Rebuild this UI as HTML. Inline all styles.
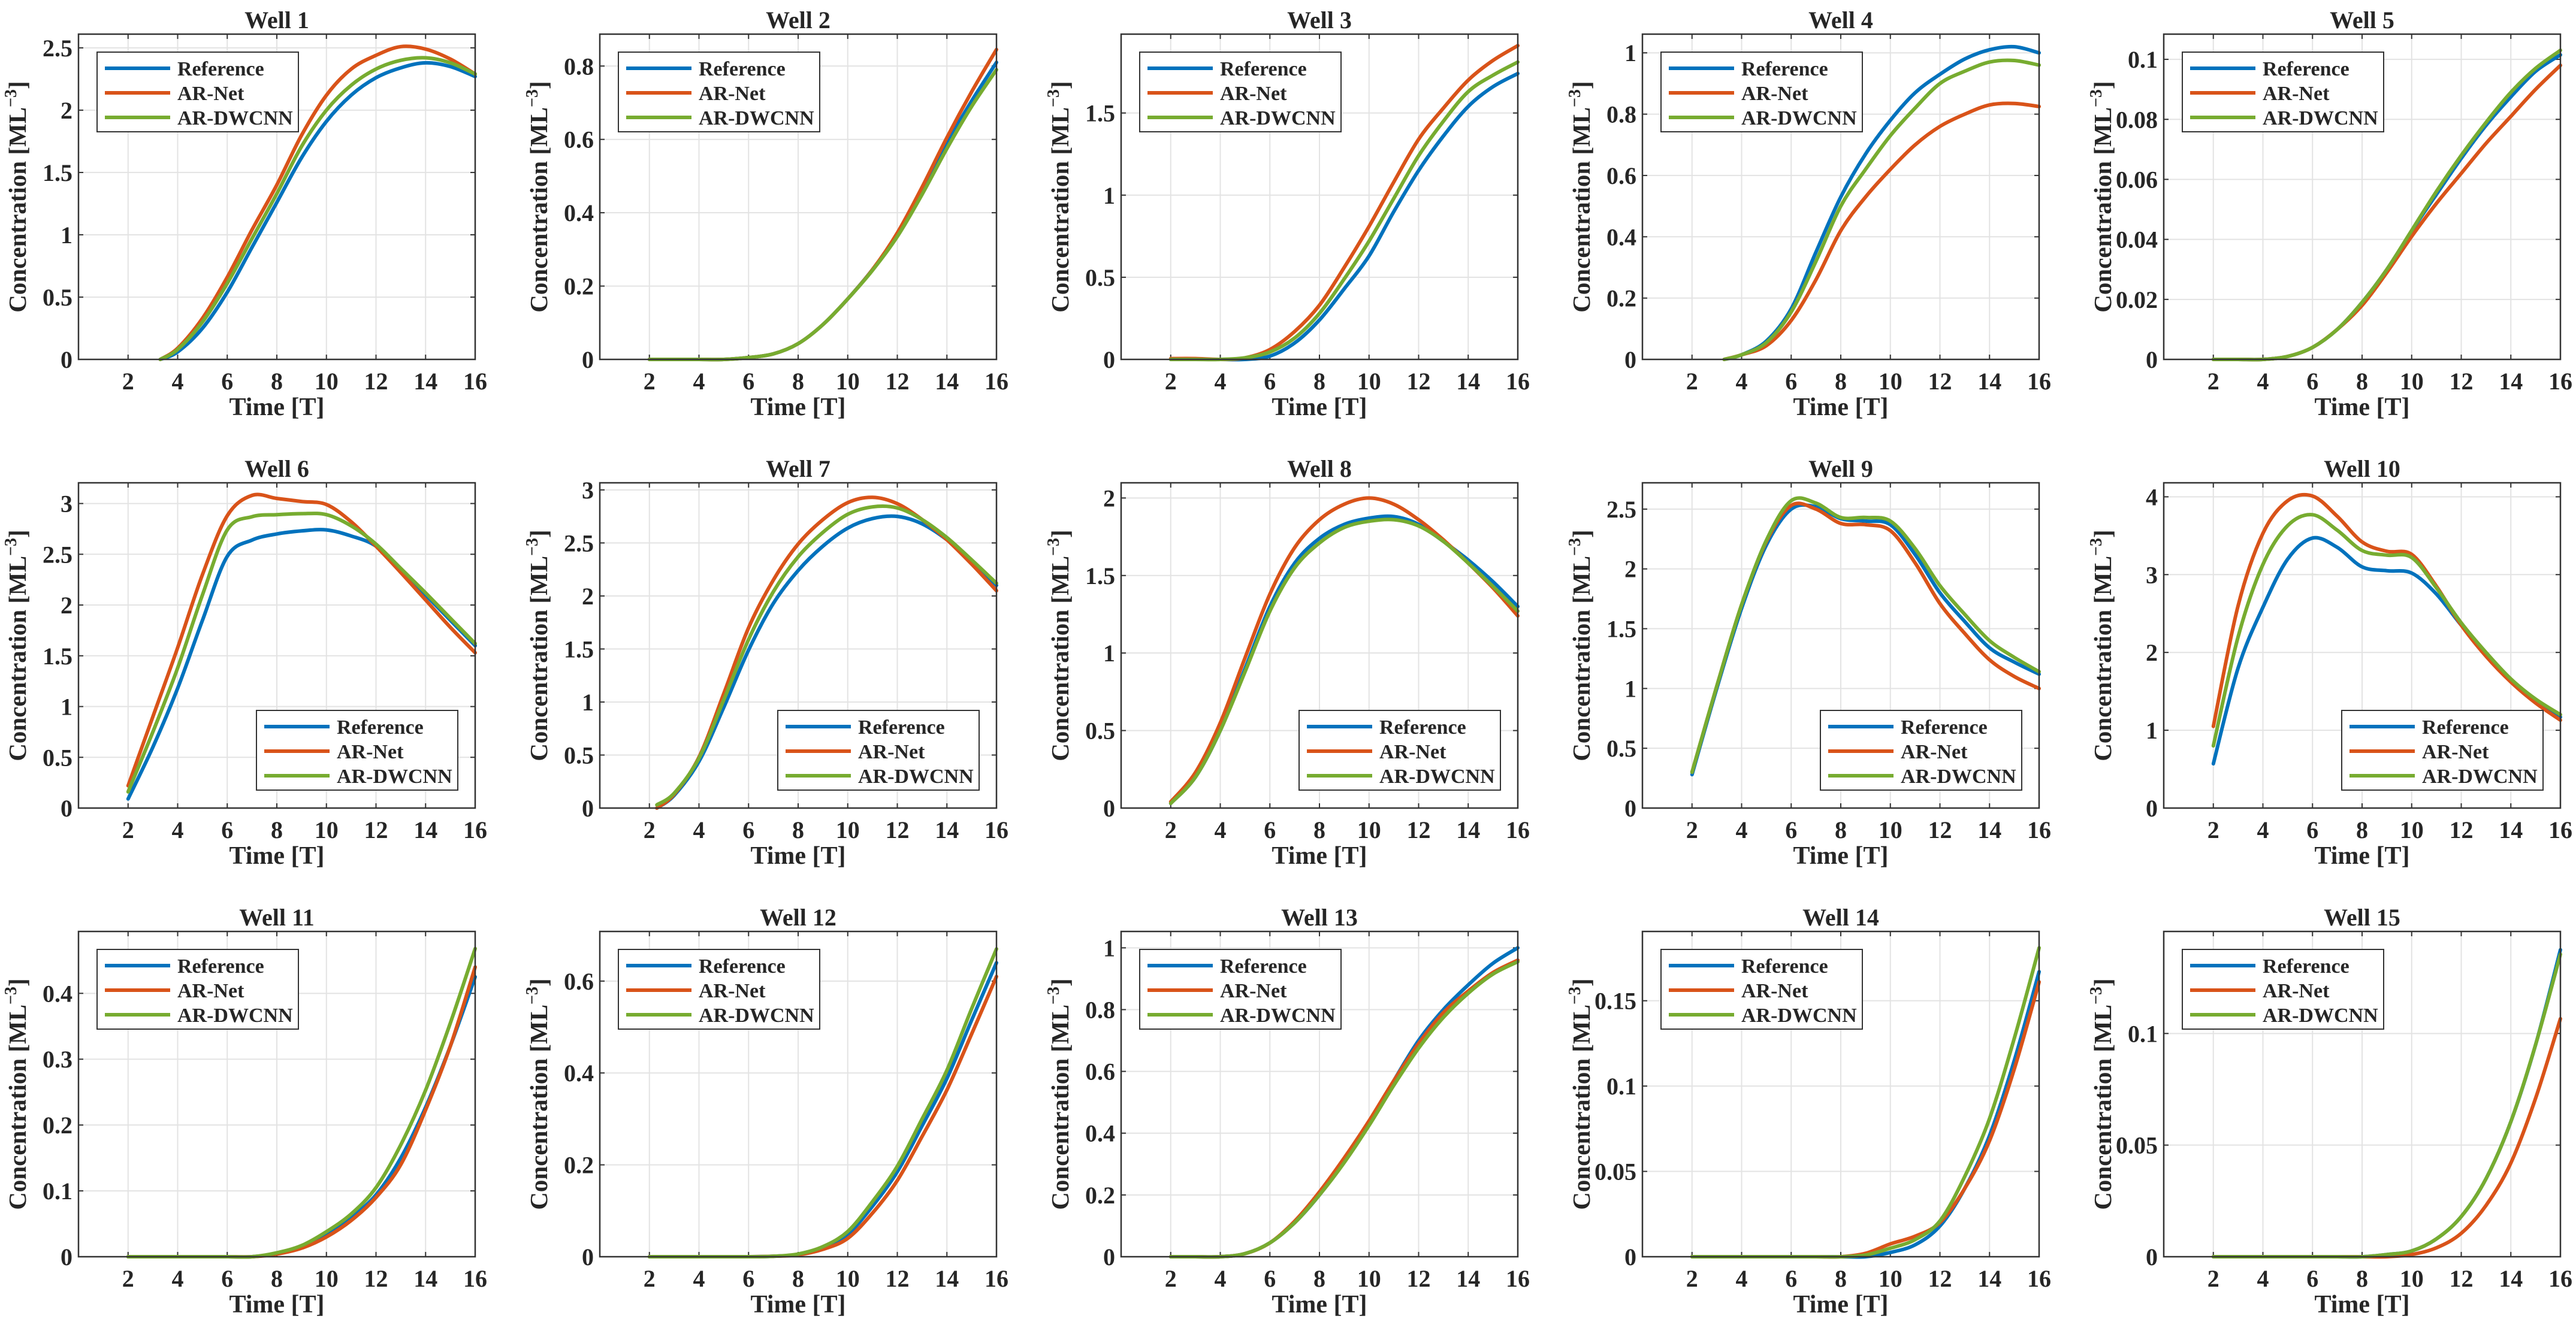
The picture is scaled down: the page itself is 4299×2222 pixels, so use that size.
<!DOCTYPE html>
<html><head><meta charset="utf-8">
<style>
html,body{margin:0;padding:0;background:#fff;}
svg{display:block;}
text{font-family:"Liberation Serif",serif;font-weight:bold;fill:#262626;}
</style></head>
<body>
<svg id="fig" width="4299" height="2222" viewBox="0 0 4299 2222" xmlns="http://www.w3.org/2000/svg"></svg>
<script>
const times = [2,3,4,5,6,7,8,9,10,11,12,13,14,15,16];
const seriesNames = ["Reference","AR-Net","AR-DWCNN"];
const seriesColors = ["#0072BD","#D95319","#77AC30"];
const wellTitles = ["Well 1","Well 2","Well 3","Well 4","Well 5","Well 6","Well 7","Well 8","Well 9","Well 10","Well 11","Well 12","Well 13","Well 14","Well 15"];
const yMax = [2.61,0.887,1.98,1.061,0.1084,3.204,3.067,2.098,2.72,4.18,0.494,0.708,1.053,0.1906,0.1457];
const yStep = [0.5,0.2,0.5,0.2,0.02,0.5,0.5,0.5,0.5,1,0.1,0.2,0.2,0.05,0.05];
const startTime = [3.3,2,2,3.3,2,2,2.3,2,2,2,2,2,2,2,2];
const legendLowerRight = [false,false,false,false,false,true,true,true,true,true,false,false,false,false,false];

const refData = [
 [null,0,0.06,0.25,0.54,0.9,1.26,1.62,1.91,2.12,2.26,2.34,2.38,2.35,2.27],
 [0,0,0,0,0.005,0.015,0.043,0.095,0.165,0.245,0.34,0.46,0.59,0.705,0.81],
 [0,0,0,0,0.02,0.1,0.24,0.43,0.63,0.9,1.15,1.36,1.54,1.66,1.74],
 [null,0,0.015,0.06,0.165,0.35,0.53,0.67,0.78,0.87,0.93,0.98,1.01,1.02,1.0],
 [0,0,0,0.001,0.004,0.01,0.019,0.03,0.0428,0.055,0.067,0.078,0.0875,0.096,0.1015],
 [0.09,0.6,1.18,1.85,2.48,2.64,2.7,2.73,2.74,2.68,2.58,2.35,2.1,1.85,1.6],
 [0,0.12,0.44,0.95,1.49,1.93,2.24,2.47,2.64,2.73,2.75,2.68,2.53,2.33,2.1],
 [0.03,0.2,0.5,0.9,1.3,1.58,1.74,1.83,1.87,1.88,1.83,1.72,1.6,1.46,1.3],
 [0.28,1.0,1.67,2.2,2.5,2.52,2.42,2.4,2.37,2.12,1.8,1.56,1.34,1.22,1.12],
 [0.57,1.8,2.58,3.2,3.47,3.35,3.1,3.05,3.02,2.75,2.35,1.98,1.65,1.38,1.17],
 [0,0,0,0,0,0,0.005,0.015,0.034,0.06,0.094,0.15,0.227,0.32,0.425],
 [0,0,0,0,0,0.001,0.005,0.02,0.049,0.11,0.185,0.285,0.388,0.515,0.64],
 [0,0,0,0.01,0.045,0.11,0.2,0.31,0.43,0.57,0.7,0.8,0.88,0.95,1.0],
 [0,0,0,0,0,0,0,0,0.0025,0.007,0.018,0.04,0.071,0.115,0.167],
 [0,0,0,0,0,0,0,0.001,0.0026,0.008,0.018,0.035,0.0605,0.095,0.1375]
];
const arNetData = [
 [null,0,0.09,0.33,0.66,1.04,1.4,1.8,2.12,2.33,2.44,2.51,2.49,2.41,2.29],
 [0,0,0,0,0.005,0.015,0.043,0.095,0.165,0.245,0.345,0.47,0.605,0.73,0.845],
 [0.005,0.005,0,0.01,0.06,0.17,0.33,0.56,0.81,1.08,1.34,1.53,1.7,1.82,1.91],
 [null,0,0.015,0.045,0.127,0.26,0.42,0.53,0.62,0.7,0.76,0.8,0.83,0.835,0.825],
 [0,0,0,0.001,0.004,0.01,0.018,0.029,0.041,0.052,0.062,0.072,0.081,0.09,0.098],
 [0.22,0.9,1.58,2.3,2.88,3.08,3.05,3.02,2.99,2.82,2.58,2.32,2.05,1.78,1.53],
 [0,0.13,0.48,1.08,1.7,2.15,2.49,2.72,2.88,2.93,2.87,2.72,2.53,2.3,2.05],
 [0.04,0.23,0.55,0.97,1.38,1.68,1.86,1.96,2.0,1.96,1.86,1.73,1.58,1.42,1.24],
 [0.3,1.02,1.7,2.23,2.53,2.5,2.38,2.37,2.32,2.05,1.71,1.46,1.24,1.1,1.0],
 [1.05,2.6,3.53,3.95,4.01,3.75,3.42,3.3,3.26,2.85,2.35,1.95,1.62,1.35,1.13],
 [0,0,0,0,0,0,0.004,0.013,0.03,0.055,0.09,0.14,0.223,0.32,0.44],
 [0,0,0,0,0,0.001,0.004,0.016,0.04,0.095,0.166,0.262,0.363,0.485,0.61],
 [0,0,0,0.01,0.045,0.115,0.21,0.32,0.44,0.57,0.69,0.79,0.86,0.92,0.96],
 [0,0,0,0,0,0,0,0.002,0.0075,0.012,0.02,0.04,0.068,0.11,0.161],
 [0,0,0,0,0,0,0,0,0.001,0.004,0.0105,0.023,0.042,0.071,0.1066]
];
const dwcnnData = [
 [null,0,0.08,0.3,0.61,0.97,1.33,1.71,2.0,2.2,2.33,2.4,2.42,2.38,2.29],
 [0,0,0,0,0.005,0.015,0.043,0.095,0.165,0.243,0.335,0.45,0.575,0.69,0.79],
 [0,0,0,0.01,0.045,0.13,0.28,0.49,0.72,0.98,1.24,1.45,1.63,1.73,1.81],
 [null,0,0.015,0.055,0.155,0.32,0.5,0.62,0.73,0.82,0.9,0.94,0.97,0.975,0.96],
 [0,0,0,0.001,0.004,0.01,0.019,0.03,0.043,0.056,0.068,0.079,0.089,0.097,0.103],
 [0.16,0.75,1.38,2.1,2.74,2.87,2.89,2.9,2.89,2.78,2.6,2.36,2.12,1.87,1.62],
 [0.03,0.14,0.47,1.02,1.59,2.04,2.37,2.6,2.77,2.84,2.83,2.72,2.55,2.34,2.12],
 [0.03,0.2,0.5,0.88,1.27,1.55,1.71,1.81,1.85,1.86,1.82,1.72,1.58,1.43,1.27],
 [0.3,1.02,1.7,2.24,2.57,2.55,2.43,2.43,2.4,2.17,1.86,1.62,1.4,1.26,1.14],
 [0.8,2.2,3.13,3.63,3.77,3.57,3.31,3.25,3.22,2.83,2.38,2.0,1.66,1.4,1.2],
 [0,0,0,0,0,0,0.006,0.017,0.038,0.065,0.105,0.17,0.253,0.355,0.468],
 [0,0,0,0,0,0.001,0.006,0.022,0.055,0.12,0.197,0.3,0.406,0.54,0.67],
 [0,0,0,0.01,0.045,0.11,0.2,0.305,0.425,0.555,0.675,0.775,0.853,0.915,0.955],
 [0,0,0,0,0,0,0,0.001,0.005,0.01,0.021,0.047,0.081,0.128,0.181],
 [0,0,0,0,0,0,0,0.001,0.0026,0.008,0.018,0.035,0.0605,0.095,0.1355]
];
const xTicks = [2,4,6,8,10,12,14,16];

const NS = "http://www.w3.org/2000/svg";
const svg = document.getElementById("fig");
function mk(tag, attrs, parent){
  const e = document.createElementNS(NS, tag);
  for (const k in attrs) e.setAttribute(k, attrs[k]);
  parent.appendChild(e);
  return e;
}
function fmt(v){ return String(parseFloat(v.toFixed(4))); }
function smoothPath(pts){
  let d = "M" + pts[0][0].toFixed(1) + "," + pts[0][1].toFixed(1);
  for (let i = 0; i < pts.length - 1; i++){
    const p0 = pts[i-1] || pts[i], p1 = pts[i], p2 = pts[i+1], p3 = pts[i+2] || pts[i+1];
    const c1x = p1[0] + (p2[0]-p0[0])/6, c1y = p1[1] + (p2[1]-p0[1])/6;
    const c2x = p2[0] - (p3[0]-p1[0])/6, c2y = p2[1] - (p3[1]-p1[1])/6;
    d += " C" + c1x.toFixed(1) + "," + c1y.toFixed(1) + " " + c2x.toFixed(1) + "," + c2y.toFixed(1) + " " + p2[0].toFixed(1) + "," + p2[1].toFixed(1);
  }
  return d;
}
const W = 662, H = 543;
for (let w = 0; w < 15; w++){
  const col = w % 5, row = Math.floor(w / 5);
  const L = 131 + 870*col, T = 57 + 749*row, R = L + W, B = T + H;
  const xS = t => L + (t/16)*W;
  const yS = v => B - (v/yMax[w])*H;
  const g = mk("g", {}, svg);
  
  
  mk("rect", {x:L, y:T, width:W, height:H, fill:"#fff"}, g);
  const grid = mk("g", {}, g);
  
  
  xTicks.forEach(t => {
    mk("line", {x1:xS(t), x2:xS(t), y1:T, y2:B, stroke:"#e3e3e3", "stroke-width":2}, grid);
    mk("line", {x1:xS(t), x2:xS(t), y1:B, y2:B-8, stroke:"#333", "stroke-width":2}, grid);
    mk("line", {x1:xS(t), x2:xS(t), y1:T, y2:T+8, stroke:"#333", "stroke-width":2}, grid);
    const tl = mk("text", {x:xS(t), y:B+50, "font-size":40, "text-anchor":"middle"}, g);
    
    
    tl.textContent = t;
  });
  const nT = Math.floor(yMax[w]/yStep[w] + 1e-6);
  for (let k = 0; k <= nT; k++){
    const v = k*yStep[w], y = yS(v);
    mk("line", {x1:L, x2:R, y1:y, y2:y, stroke:"#e3e3e3", "stroke-width":2}, grid);
    mk("line", {x1:L, x2:L+8, y1:y, y2:y, stroke:"#333", "stroke-width":2}, grid);
    mk("line", {x1:R, x2:R-8, y1:y, y2:y, stroke:"#333", "stroke-width":2}, grid);
    const tl = mk("text", {x:L-10, y:y+14, "font-size":40, "text-anchor":"end"}, g);
    
    
    tl.textContent = fmt(v);
  }
  const all = [refData[w], arNetData[w], dwcnnData[w]];
  all.forEach((vals, s) => {
    const pts = [];
    vals.forEach((v, i) => {
      if (v === null) return;
      let t = times[i];
      if (pts.length === 0 && startTime[w] > t) t = startTime[w];
      pts.push([xS(t), yS(v)]);
    });
    const p = mk("path", {d:smoothPath(pts), fill:"none", stroke:seriesColors[s], "stroke-width":6, "stroke-linejoin":"round", "stroke-linecap":"round"}, g);
    
    
  });
  mk("rect", {x:L, y:T, width:W, height:H, fill:"none", stroke:"#333", "stroke-width":2.5}, g);
  const title = mk("text", {x:(L+R)/2, y:T-10, "font-size":40, "text-anchor":"middle"}, g);
  
  
  title.textContent = wellTitles[w];
  const xl = mk("text", {x:(L+R)/2, y:B+93, "font-size":42, "text-anchor":"middle"}, g);
  
  
  xl.textContent = "Time [T]";
  const yl = mk("text", {x:0, y:0, "font-size":41, "text-anchor":"middle", transform:"translate(" + (L-88) + "," + ((T+B)/2) + ") rotate(-90)"}, g);
  
  
  yl.appendChild(document.createTextNode("Concentration [ML"));
  const sup = mk("tspan", {"font-size":28, dy:-16}, yl);
  sup.textContent = "\u22123";
  const cl = mk("tspan", {dy:16}, yl);
  cl.textContent = "]";
  const lw = 336, lh = 133;
  const lx = legendLowerRight[w] ? R - 29 - lw : L + 31;
  const ly = legendLowerRight[w] ? B - 30 - lh : T + 30;
  const leg = mk("g", {}, g);
  
  
  mk("rect", {x:lx, y:ly, width:lw, height:lh, fill:"#fff", stroke:"#333", "stroke-width":2}, leg);
  seriesNames.forEach((nm, s) => {
    const yy = ly + 27 + s*41;
    const ent = mk("g", {}, leg);
    
    
    mk("line", {x1:lx+13, x2:lx+122, y1:yy, y2:yy, stroke:seriesColors[s], "stroke-width":6}, ent);
    const tx = mk("text", {x:lx+134, y:yy+12, "font-size":34}, ent);
    tx.textContent = nm;
  });
}
</script>
</body></html>
